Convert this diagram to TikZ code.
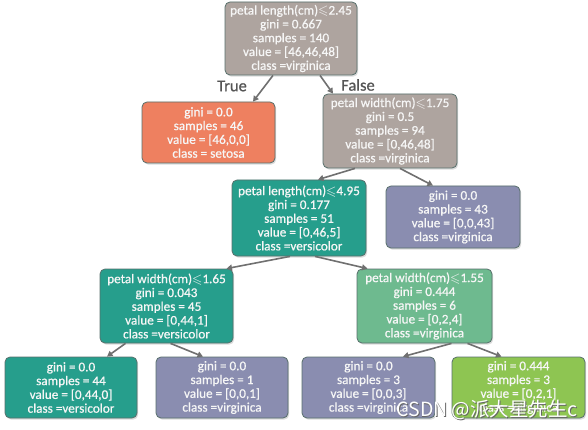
\documentclass[tikz,border=0pt]{standalone}
\usepackage{amssymb}
\usepackage{fontspec}
\newfontfamily\boxfont{Carlito}[FakeBold=0.7]
\newfontfamily\cjkfont{Noto Sans CJK SC}
\usetikzlibrary{arrows.meta,shadows}
\definecolor{cGray}{RGB}{174,164,159}
\definecolor{cOrange}{RGB}{238,128,96}
\definecolor{cTeal}{RGB}{38,158,140}
\definecolor{cPurple}{RGB}{138,141,176}
\definecolor{cMint}{RGB}{110,186,143}
\definecolor{cLime}{RGB}{142,197,82}
\definecolor{cBorder}{RGB}{88,112,108}
\definecolor{cEdge}{RGB}{112,112,112}
\definecolor{cLabel}{RGB}{85,85,85}
\definecolor{cText}{RGB}{246,246,246}
\tikzset{
  box/.style={rectangle, rounded corners=5pt, draw=cBorder, line width=0.8pt,
    text=cText, align=center, inner sep=0pt, minimum width=133pt,
    font={\boxfont\fontsize{13.2}{13.8}\selectfont},
    drop shadow={opacity=0.28, shadow xshift=1.2pt, shadow yshift=-1.6pt}},
  graybox/.style={box, fill=cGray},
  orangebox/.style={box, fill=cOrange},
  tealbox/.style={box, fill=cTeal},
  purplebox/.style={box, fill=cPurple},
  mintbox/.style={box, fill=cMint},
  limebox/.style={box, fill=cLime},
  edge/.style={draw=cEdge, line width=1.6pt, -{Triangle[length=5.5pt,width=6pt]}},
  branchlabel/.style={text=cLabel, font={\boxfont\fontsize{16.5}{16.5}\selectfont}},
}
\newcommand{\leqs}{$\leqslant$}
\begin{document}
\begin{tikzpicture}[x=1pt,y=-1pt]
\fill[white] (0,0) rectangle (588,430);
\useasboundingbox (0,0) rectangle (588,430);

\node[graybox, minimum width=132pt, minimum height=73pt] (root) at (291,38.5)
  {petal length(cm)\leqs2.45\\gini = 0.667\\samples = 140\\value = [46,46,48]\\class =virginica};
\node[orangebox, minimum height=61pt] (setosa) at (208.5,132.5)
  {gini = 0.0\\samples = 46\\value = [46,0,0]\\class = setosa};
\node[graybox, minimum width=134pt, minimum height=74pt] (n1) at (390,131)
  {petal width(cm)\leqs1.75\\gini = 0.5\\samples = 94\\value = [0,46,48]\\class =virginica};
\node[tealbox, minimum width=134pt, minimum height=76pt] (n2) at (299,218)
  {petal length(cm)\leqs4.95\\gini = 0.177\\samples = 51\\value = [0,46,5]\\class =versicolor};
\node[purplebox, minimum width=134pt, minimum height=62pt] (v43) at (453,217)
  {gini = 0.0\\samples = 43\\value = [0,0,43]\\class =virginica};
\node[tealbox, minimum height=74pt] (n3) at (166.5,306)
  {petal width(cm)\leqs1.65\\gini = 0.043\\samples = 45\\value = [0,44,1]\\class =versicolor};
\node[mintbox, minimum width=135pt, minimum height=74pt] (n4) at (424.5,306)
  {petal width(cm)\leqs1.55\\gini = 0.444\\samples = 6\\value = [0,2,4]\\class =virginica};
\node[tealbox, minimum width=132pt, minimum height=61pt] (b1) at (71,387.5)
  {gini = 0.0\\samples = 44\\value = [0,44,0]\\class =versicolor};
\node[purplebox, minimum width=132pt, minimum height=61pt] (b2) at (222,387.5)
  {gini = 0.0\\samples = 1\\value = [0,0,1]\\class =virginica};
\node[purplebox, minimum height=61pt] (b3) at (368.5,387.5)
  {gini = 0.0\\samples = 3\\value = [0,0,3]\\class =virginica};
\node[limebox, minimum height=61pt] (b4) at (518.5,387.5)
  {gini = 0.444\\samples = 3\\value = [0,2,1]\\class =virginica};

\draw[edge] ([xshift=-18pt]root.south) -- ([xshift=44.5pt]setosa.north);
\draw[edge] ([xshift=29pt]root.south) -- ([xshift=-57pt]n1.north);
\draw[edge] ([xshift=-35pt]n1.south) -- ([xshift=19pt]n2.north);
\draw[edge] ([xshift=10pt]n1.south) -- ([xshift=-20pt]v43.north);
\draw[edge] ([xshift=-9pt]n2.south) -- ([xshift=60pt]n3.north);
\draw[edge] ([xshift=16pt]n2.south) -- ([xshift=-57pt]n4.north);
\draw[edge] ([xshift=-41pt]n3.south) -- ([xshift=36pt]b1.north);
\draw[edge] ([xshift=4pt]n3.south) -- ([xshift=-19pt]b2.north);
\draw[edge] ([xshift=27pt]n4.south) -- ([xshift=34.5pt]b3.north);
\draw[edge] ([xshift=43pt]n4.south) -- ([xshift=-17pt]b4.north);

\node[branchlabel] (truelab) at (232,86) {True};
\node[branchlabel] (falselab) at (358,85) {False};

\node[text=black!60, font={\cjkfont\fontsize{19.5}{19.5}\selectfont}, anchor=west] (wms) at (393.8,410.8) {CSDN @派大星先生c};
\node[text=white, font={\cjkfont\fontsize{19.5}{19.5}\selectfont}, anchor=west] (wm) at (393,410) {CSDN @派大星先生c};
\end{tikzpicture}
\end{document}
